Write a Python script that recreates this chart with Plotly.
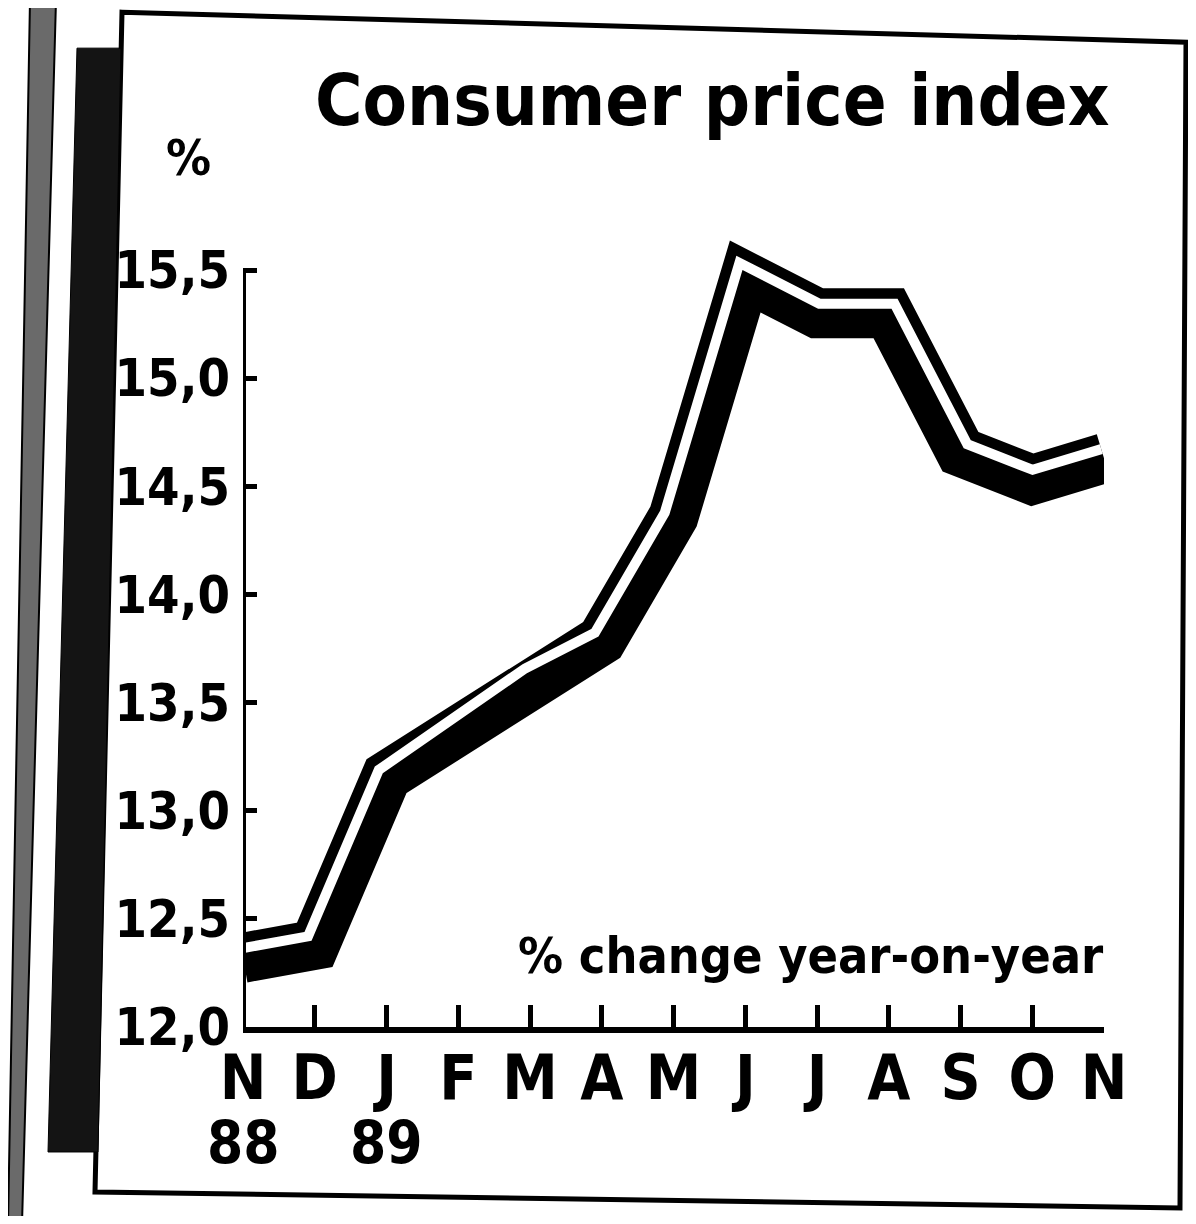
import math
import plotly.graph_objects as go

# ---------------- data ----------------
months = ["N", "D", "J", "F", "M", "A", "M", "J", "J", "A", "S", "O", "N"]
year_labels = ["88", "", "89", "", "", "", "", "", "", "", "", "", ""]
cpi_change = [12.32, 12.38, 13.16, 13.39, 13.62, 13.79, 14.36, 15.47, 15.30, 15.30, 14.66, 14.53, 14.63]
y_ticks = [12.0, 12.5, 13.0, 13.5, 14.0, 14.5, 15.0, 15.5]
y_tick_text = ["12,0", "12,5", "13,0", "13,5", "14,0", "14,5", "15,0", "15,5"]
title_text = "Consumer price index"
unit_text = "%"
note_text = "% change year-on-year"

# ---------------- layout geometry (page pixels) ----------------
BODY = 8                       # default page margin around the plot div
PAGE_W, PAGE_H = 1196, 1224
W, H = PAGE_W - 2 * BODY, PAGE_H - 2 * BODY
PL, PR = 243, 1104             # plot area left/right (x = 0 .. 12)
PY0 = 1027                     # pixel of y = 12.0
PX_PER_Y = 216.3               # pixels per 1 percentage point
Y_MIN, Y_MAX = 12.0, 15.75
PT = PY0 - (Y_MAX - Y_MIN) * PX_PER_Y
X_MIN, X_MAX = 0, len(months) - 1
PX_PER_X = (PR - PL) / (X_MAX - X_MIN)

FONT = "Liberation Sans Narrow, DejaVu Sans Condensed, Arial Narrow, sans-serif"


def px(xp):
    return (xp - PL) / (PR - PL)


def py(yp):
    return (PY0 - yp) / (PY0 - PT)


xs = list(range(len(months)))

# white stripe: the line offset perpendicular (screen space) towards its upper side
OFF = 9.5
P = [(x * PX_PER_X, v * PX_PER_Y) for x, v in zip(xs, cpi_change)]
normals = []
for i in range(len(P) - 1):
    dx, dy = P[i + 1][0] - P[i][0], P[i + 1][1] - P[i][1]
    L = math.hypot(dx, dy)
    normals.append((-dy / L, dx / L))
sx, sy = [], []
for i, (X, Y) in enumerate(P):
    if i == 0:
        n = normals[0]; k = 1.0
    elif i == len(P) - 1:
        n = normals[-1]; k = 1.0
    else:
        a, b = normals[i - 1], normals[i]
        m = (a[0] + b[0], a[1] + b[1])
        ml = math.hypot(*m)
        n = (m[0] / ml, m[1] / ml)
        k = 1.0 / (n[0] * a[0] + n[1] * a[1])
    sx.append((X + n[0] * OFF * k) / PX_PER_X)
    sy.append((Y + n[1] * OFF * k) / PX_PER_Y)

fig = go.Figure()
fig.add_trace(go.Scatter(x=xs, y=cpi_change, mode="lines",
                         line=dict(color="black", width=50),
                         hoverinfo="skip", showlegend=False))
fig.add_trace(go.Scatter(x=sx, y=sy, mode="lines",
                         line=dict(color="white", width=10),
                         hoverinfo="skip", showlegend=False))


def poly(points):
    return "M " + " L ".join(f"{px(a):.5f},{py(b):.5f}" for a, b in points) + " Z"


shapes = []
# outer frame (slightly skewed as in the scan)
shapes.append(dict(type="path", xref="paper", yref="paper",
                   path=poly([(122, 12), (1186, 42), (1180, 1208), (95, 1192)]),
                   line=dict(color="black", width=5), layer="below"))
# dark strip on the left
shapes.append(dict(type="path", xref="paper", yref="paper",
                   path=poly([(77, 48), (121, 48), (98, 1152), (48, 1152)]),
                   fillcolor="#141414", line=dict(color="black", width=1), layer="below"))
shapes.append(dict(type="path", xref="paper", yref="paper",
                   path=poly([(30, 0), (56, 0), (22, 1224), (8, 1224)]),
                   fillcolor="#6a6a6a", line=dict(color="black", width=2), layer="below"))
# y axis line from 12.0 to 15.5
shapes.append(dict(type="line", xref="x", yref="y", x0=0, x1=0,
                   y0=y_ticks[0], y1=y_ticks[-1], line=dict(color="black", width=6)))

annotations = []
annotations.append(dict(text=title_text, xref="paper", yref="paper",
                        x=px(1112), y=py(100), xanchor="right", yanchor="middle",
                        showarrow=False,
                        font=dict(family=FONT, size=72, color="black", weight="bold")))
annotations.append(dict(text=unit_text, xref="paper", yref="paper",
                        x=px(188), y=py(158), xanchor="center", yanchor="middle",
                        showarrow=False,
                        font=dict(family=FONT, size=50, color="black", weight="bold")))
annotations.append(dict(text=note_text, xref="paper", yref="paper",
                        x=px(1106), y=py(956), xanchor="right", yanchor="middle",
                        showarrow=False,
                        font=dict(family=FONT, size=50, color="black", weight="bold")))
for x, yl in zip(xs, year_labels):
    if yl:
        annotations.append(dict(text=yl, xref="x", yref="paper",
                                x=x, y=py(1143), xanchor="center", yanchor="middle",
                                showarrow=False,
                                font=dict(family=FONT, size=58, color="black", weight="bold")))

fig.update_layout(
    width=W, height=H,
    margin=dict(l=PL - BODY, r=(PAGE_W - BODY) - PR, t=PT - BODY,
                b=(PAGE_H - BODY) - PY0, pad=0),
    paper_bgcolor="white", plot_bgcolor="white",
    shapes=shapes, annotations=annotations,
    showlegend=False,
)
fig.update_xaxes(range=[X_MIN, X_MAX], tickvals=xs, ticktext=months,
                 showgrid=False, zeroline=False,
                 showline=True, linecolor="black", linewidth=6,
                 ticks="inside", ticklen=22, tickwidth=5, tickcolor="black",
                 ticklabelstandoff=-8,
                 tickfont=dict(family=FONT, size=62, color="black", weight="bold"))
fig.update_yaxes(range=[Y_MIN, Y_MAX], tickvals=y_ticks, ticktext=y_tick_text,
                 showgrid=False, zeroline=False, showline=False,
                 ticks="inside", ticklen=14, tickwidth=5, tickcolor="black",
                 ticklabelstandoff=12,
                 tickfont=dict(family=FONT, size=52, color="black", weight="bold"))

fig.write_html("out.html")
